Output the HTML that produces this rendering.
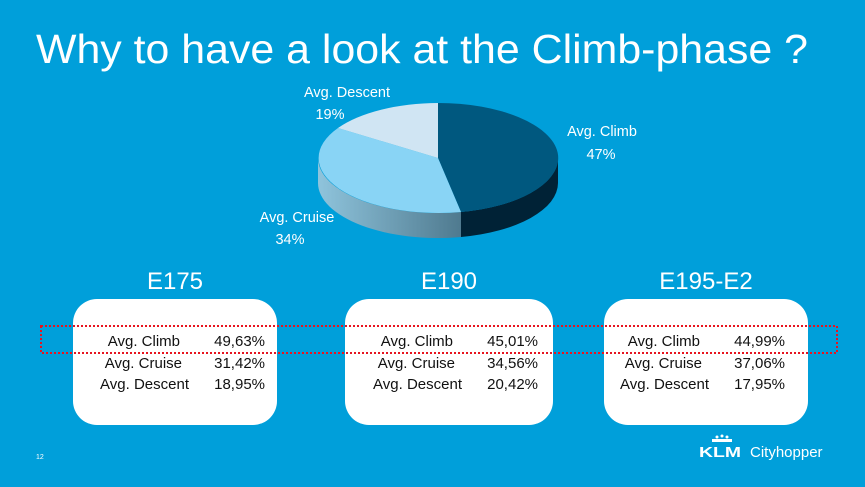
<!DOCTYPE html>
<html><head><meta charset="utf-8"><style>
body{margin:0;width:865px;height:487px;overflow:hidden;background:#009fda;font-family:"Liberation Sans",sans-serif}
</style></head><body>
<svg width="865" height="487" viewBox="0 0 865 487" xmlns="http://www.w3.org/2000/svg" style="display:block">
<defs>
<linearGradient id="cs" x1="0" x2="1" y1="0" y2="0">
<stop offset="0" stop-color="#8fc4dc"/><stop offset="1" stop-color="#4f7a8f"/></linearGradient>
</defs>
<rect width="865" height="487" fill="#009fda"/>
<text x="36" y="63" font-size="41" fill="#fff" font-family="Liberation Sans, sans-serif" textLength="772" lengthAdjust="spacingAndGlyphs">Why to have a look at the Climb-phase ?</text>
<path d="M461,212 A120,55 0 0 0 558,158 L558,183 A120,55 0 0 1 461,237 Z" fill="#002236"/>
<path d="M318,158 A120,55 0 0 0 461,212 L461,237 A120,55 0 0 1 318,183 Z" fill="url(#cs)"/>
<path d="M438,158 L438,103 A120,55 0 0 1 461,212 Z" fill="#00587f"/>
<path d="M438,158 L461,212 A120,55 0 0 1 338,128 Z" fill="#89d4f5"/>
<path d="M438,158 L338,128 A120,55 0 0 1 438,103 Z" fill="#d0e5f3"/>
<g fill="#fff" font-size="14.5" font-family="Liberation Sans, sans-serif" text-anchor="middle">
<text x="347" y="97">Avg. Descent</text><text x="330" y="119">19%</text>
<text x="602" y="136">Avg. Climb</text><text x="601" y="159">47%</text>
<text x="297" y="222">Avg. Cruise</text><text x="290" y="244">34%</text>
</g>
<g fill="#fff" font-size="24" text-anchor="middle">
<text x="175" y="289">E175</text><text x="449" y="289">E190</text><text x="706" y="289">E195-E2</text>
</g>
<rect x="73" y="299" width="204" height="126" rx="24" fill="#fff"/>
<rect x="345" y="299" width="208" height="126" rx="24" fill="#fff"/>
<rect x="604" y="299" width="204" height="126" rx="24" fill="#fff"/>
<g font-size="15" fill="#111">
<g text-anchor="end">
<text x="180" y="346">Avg. Climb</text><text x="182" y="368">Avg. Cruise</text><text x="189" y="389">Avg. Descent</text>
<text x="265" y="346">49,63%</text><text x="265" y="368">31,42%</text><text x="265" y="389">18,95%</text>
<text x="453" y="346">Avg. Climb</text><text x="455" y="368">Avg. Cruise</text><text x="462" y="389">Avg. Descent</text>
<text x="538" y="346">45,01%</text><text x="538" y="368">34,56%</text><text x="538" y="389">20,42%</text>
<text x="700" y="346">Avg. Climb</text><text x="702" y="368">Avg. Cruise</text><text x="709" y="389">Avg. Descent</text>
<text x="785" y="346">44,99%</text><text x="785" y="368">37,06%</text><text x="785" y="389">17,95%</text>
</g></g>
<rect x="41" y="326" width="796" height="27" fill="none" stroke="#e8141e" stroke-width="2" stroke-dasharray="2,2"/>
<text x="36" y="459" font-size="7" fill="#fff">12</text>
<g fill="#fff">
<circle cx="717" cy="437" r="1.5"/><circle cx="722" cy="436" r="1.5"/><circle cx="727" cy="437" r="1.5"/>
<rect x="712" y="439" width="20" height="3"/>
<text x="699" y="457" font-size="15" font-weight="bold" font-family="Liberation Sans, sans-serif" textLength="42" lengthAdjust="spacingAndGlyphs">KLM</text>
<text x="750" y="457" font-size="15">Cityhopper</text>
</g>
</svg>
</body></html>
